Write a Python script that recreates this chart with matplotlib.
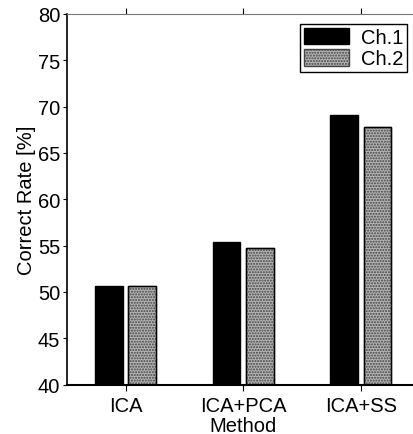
import matplotlib
matplotlib.use("Agg")
import matplotlib.pyplot as plt
import numpy as np

methods = ["ICA", "ICA+PCA", "ICA+SS"]
ch1 = [50.65, 55.4, 69.05]
ch2 = [50.6, 54.75, 67.85]
series_labels = ["Ch.1", "Ch.2"]

plt.rcParams["font.family"] = ["Liberation Sans", "DejaVu Sans"]
plt.rcParams["font.size"] = 14.5

fig = plt.figure(figsize=(4.14, 4.35), dpi=100)
ax = fig.add_axes([67 / 414, 1 - 385.5 / 435, 353 / 414, 370.5 / 435])

x = np.arange(len(methods))
w = 0.235
ax.bar(x - 0.145, ch1, w, color="black", edgecolor="black",
       linewidth=1, label=series_labels[0])
ax.bar(x + 0.138, ch2, w, color="#b4b4b4", edgecolor="#444444",
       hatch="......", linewidth=1, label=series_labels[1])
# solid outline over the textured bars
ax.bar(x + 0.138, ch2, w, fill=False, edgecolor="black", linewidth=1)

ax.set_xlim(-0.5, 2.5)
ax.set_ylim(40, 80)
ax.set_yticks(range(40, 81, 5))
ax.set_xticks(x)
ax.set_xticklabels(methods)
ax.tick_params(axis="x", direction="out", length=4, top=True, pad=4)
ax.tick_params(axis="y", direction="out", length=3, pad=2)

ax.spines["right"].set_visible(False)
ax.spines["top"].set_color("#777777")
ax.spines["top"].set_linestyle((0, (1, 1)))
ax.spines["left"].set_linewidth(1.2)
ax.spines["bottom"].set_linewidth(1.5)

ax.set_ylabel("Correct Rate [%]", labelpad=1)
ax.set_xlabel("Method", labelpad=1)

leg = ax.legend(loc="upper right", bbox_to_anchor=(0.975, 0.985), frameon=True,
                fancybox=False, edgecolor="black", framealpha=1,
                handlelength=2.2, handleheight=0.9, borderpad=0.2,
                labelspacing=0.1, handletextpad=0.6, borderaxespad=0.2)
leg.get_frame().set_linewidth(1)

fig.savefig("out.png", dpi=100)
